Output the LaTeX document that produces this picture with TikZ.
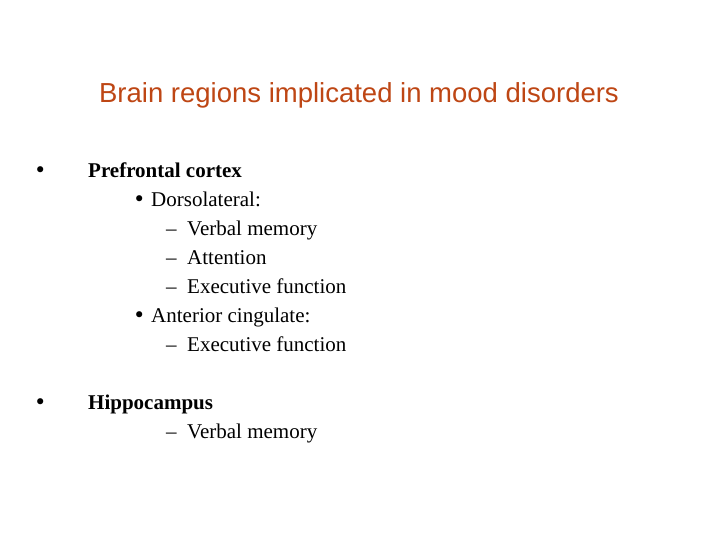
\documentclass[tikz,border=0pt]{standalone}
\usepackage{fontspec}
\setmainfont{Liberation Serif}
\newfontfamily\titlefont{Liberation Sans}
\newfontfamily\symfont{DejaVu Sans}
\definecolor{titlec}{RGB}{190,70,20}
\begin{document}
\begin{tikzpicture}[x=1pt,y=-1pt,
  txt/.style={anchor=base west,inner sep=0pt,font=\fontsize{21}{24}\selectfont},
  bul/.style={anchor=base west,inner sep=0pt,font=\fontsize{21}{24}\selectfont}]
\useasboundingbox[fill=white] (0,0) rectangle (720,540);
\node[anchor=base,inner sep=0pt,text=titlec,font=\titlefont\fontsize{27.5}{30}\selectfont] (t) at (359,103) {Brain regions implicated in mood disorders};
\node[bul] (b1) at (34,178) {{\symfont •}};
\node[txt] (l1) at (88,178) {\textbf{Prefrontal cortex}};
\node[bul] (b2) at (133,207) {{\symfont •}};
\node[txt] (l2) at (151,207) {Dorsolateral:};
\node[txt] (l3) at (166,236) {–}; \node[txt] (m3) at (187,236) {Verbal memory};
\node[txt] (l4) at (166,264) {–}; \node[txt] (m4) at (187,264) {Attention};
\node[txt] (l5) at (166,293) {–}; \node[txt] (m5) at (187,293) {Executive function};
\node[bul] (b3) at (133,322) {{\symfont •}};
\node[txt] (l6) at (151,322) {Anterior cingulate:};
\node[txt] (l7) at (166,351) {–}; \node[txt] (m7) at (187,351) {Executive function};
\node[bul] (b4) at (34,409) {{\symfont •}};
\node[txt] (l8) at (88,409) {\textbf{Hippocampus}};
\node[txt] (l9) at (166,438) {–}; \node[txt] (m9) at (187,438) {Verbal memory};
\end{tikzpicture}
\end{document}
